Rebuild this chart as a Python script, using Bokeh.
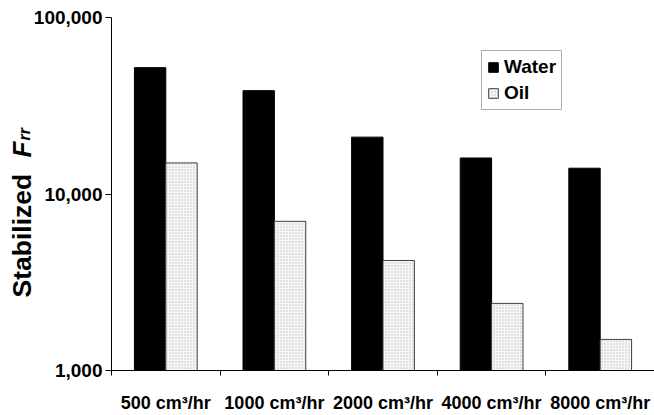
import math
from bokeh.plotting import figure
from bokeh.models import (ColumnDataSource, FixedTicker, NumeralTickFormatter,
                          Range1d, Label, Legend, LegendItem)
from bokeh.transform import dodge
from bokeh.embed import file_html
from bokeh.resources import INLINE

# ---- data ----
categories = ["500 cm³/hr", "1000 cm³/hr", "2000 cm³/hr", "4000 cm³/hr", "8000 cm³/hr"]
water = [52000, 38500, 21000, 16000, 14000]
oil = [15000, 7000, 4200, 2400, 1500]
y_ticks = [1000, 10000, 100000]

FONT = "Liberation Sans"
n = len(categories)
xc = [i + 0.5 for i in range(n)]
src = ColumnDataSource(dict(x=xc, water=water, oil=oil))

p = figure(width=654, height=415, y_axis_type="log",
           x_range=Range1d(0, n), y_range=Range1d(1000, 100000),
           output_backend="svg", toolbar_location=None)
p.min_border_left = 111
p.min_border_right = 0
p.min_border_top = 17
p.min_border_bottom = 45
p.outline_line_color = None
p.background_fill_color = "white"
p.border_fill_color = "white"

bw = 0.289
off = 0.1445
r_w = p.vbar(x=dodge("x", -off), top="water", bottom=1000, width=bw, source=src,
             fill_color="black", line_color="black", line_width=1)
r_o = p.vbar(x=dodge("x", off), top="oil", bottom=1000, width=bw, source=src,
             fill_color="#f6f6f6", line_color="#404040", line_width=1,
             hatch_pattern="dot", hatch_color="#c0c0c0", hatch_scale=3, hatch_weight=1)

# grid: only the top line
p.xgrid.visible = False
p.ygrid.ticker = FixedTicker(ticks=[100000])
p.ygrid.grid_line_color = "#808080"

# y axis
ya = p.yaxis[0]
ya.ticker = FixedTicker(ticks=y_ticks, minor_ticks=[])
ya.formatter = NumeralTickFormatter(format="0,0")
ya.major_label_text_font = FONT
ya.major_label_text_font_style = "bold"
ya.major_label_text_font_size = "19px"
ya.major_label_text_color = "black"
ya.major_tick_out = 6
ya.major_tick_in = 0
ya.major_tick_line_color = "black"
ya.axis_line_color = "black"
ya.major_label_standoff = 3
# blank axis label with negative standoff: keeps the left panel narrow so the
# title labels below can sit in side panels without pushing the frame right
ya.axis_label = " "
ya.axis_label_text_font_size = "1px"
ya.axis_label_standoff = -60

# x axis
xa = p.xaxis[0]
xa.ticker = FixedTicker(ticks=xc, minor_ticks=[float(i) for i in range(n)])
xa.major_label_overrides = {x: c for x, c in zip(xc, categories)}
xa.major_tick_out = 0
xa.major_tick_in = 0
xa.minor_tick_out = 5
xa.minor_tick_in = 0
xa.minor_tick_line_color = "black"
xa.axis_line_color = "black"
xa.major_label_text_font = FONT
xa.major_label_text_font_style = "bold"
xa.major_label_text_font_size = "18px"
xa.major_label_text_color = "black"
xa.major_label_standoff = 17

# y axis title (in the left panel so it is not clipped to the frame)
def ylab(text, x, y, size, style):
    return Label(x=x, y=y, x_units="canvas", y_units="canvas", text=text,
                 angle=math.pi / 2, text_align="left", text_baseline="alphabetic",
                 text_font=FONT, text_font_style=style, text_font_size=size,
                 text_color="black")

p.add_layout(ylab("Stabilized", 21, 297, "26.5px", "bold"), "left")
p.add_layout(ylab("F", 21, 157, "26px", "bold italic"), "left")
p.add_layout(ylab("rr", 24, 140, "16px", "bold italic"), "left")

legend = Legend(items=[LegendItem(label="Water", renderers=[r_w]),
                       LegendItem(label="Oil", renderers=[r_o])],
                location=(370, 260))
legend.label_text_font = FONT
legend.label_text_font_style = "bold"
legend.label_text_font_size = "19px"
legend.label_text_color = "black"
legend.glyph_width = 12
legend.glyph_height = 12
legend.label_standoff = 5
legend.padding = 5
legend.margin = 0
legend.spacing = 4
legend.border_line_color = "#606060"
legend.border_line_width = 1
legend.background_fill_alpha = 1
p.add_layout(legend)

open("out.html", "w").write(file_html(p, INLINE))
